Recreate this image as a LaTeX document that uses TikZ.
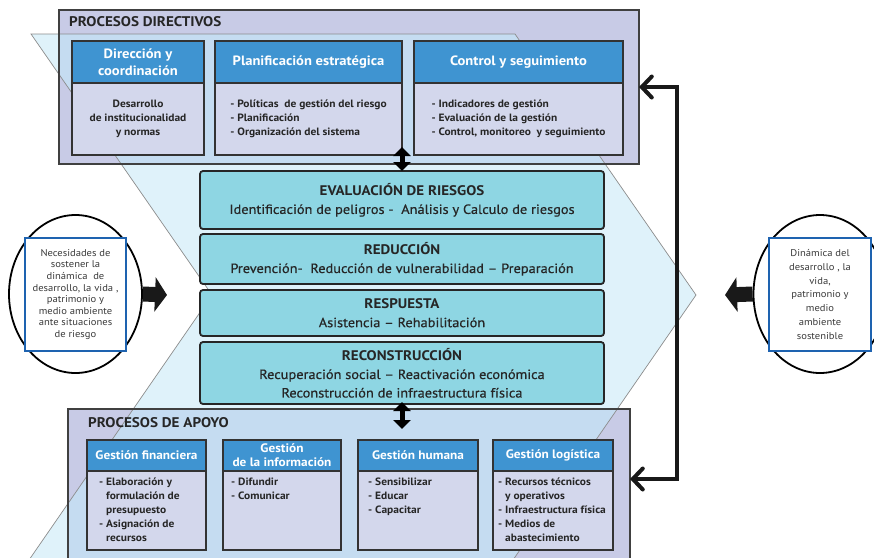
\documentclass[tikz,border=0pt]{standalone}
\usepackage{fontspec}
\setmainfont{PT Sans}[FakeStretch=1.08]
\newfontfamily\myMedFamily{PT Sans}[FakeStretch=1.08, FakeBold=0.5]
\usetikzlibrary{arrows.meta,shapes.geometric}
\definecolor{chev}{HTML}{DFF2FA}
\definecolor{lav}{HTML}{C8CBE6}
\definecolor{lavin}{HTML}{C5DCF1}
\definecolor{hdr}{HTML}{3F94D1}
\definecolor{bodyc}{HTML}{D3D7EC}
\definecolor{tealc}{HTML}{8ED6E3}
\definecolor{boxblue}{HTML}{1E63B0}
\definecolor{txt}{HTML}{262626}
\definecolor{gtxt}{HTML}{3A3A3A}
\newcommand\myTitleFont{\fontsize{14}{16}\selectfont\bfseries}
\newcommand\myHdrFont{\fontsize{13.5}{16}\selectfont\bfseries}
\newcommand\myHdrFontB{\fontsize{12.3}{14}\selectfont\bfseries}
\newcommand\myItemFont{\fontsize{10.6}{14}\selectfont\bfseries}
\newcommand\myCenFont{\myMedFamily\fontsize{13.3}{18.5}\selectfont}
\newcommand\myCenTitle{\normalfont\fontsize{13.9}{18.5}\selectfont\bfseries}
\newcommand\myEllFont{\fontsize{9.8}{11.6}\selectfont}
\tikzset{
  chevp/.style={insert path={(31,34) -- (515,34) -- (696,295) -- (513,560) -- (29,560) -- (212,295) -- cycle}},
  outerbox/.style={rectangle, fill=lav, anchor=north west, outer sep=0pt, inner sep=0pt},
  outerline/.style={draw=black!75, line width=1.4pt},
  hdrbox/.style={rectangle, draw=black!80, line width=1.1pt, fill=hdr, text=white, font=\myHdrFont, align=center, anchor=north west, outer sep=0pt, inner sep=0pt},
  bodybox/.style={rectangle, draw=black!80, line width=1.1pt, fill=bodyc, text=txt, font=\myItemFont, align=left, anchor=north west, outer sep=0pt, inner sep=0pt},
  itemtext/.style={text=txt, font=\myItemFont, align=left, anchor=north west, inner sep=0pt},
  cenbox/.style={rectangle, rounded corners=3pt, draw=black!85, line width=1.8pt, fill=tealc, text=txt, font=\myCenFont, align=center, anchor=north west, outer sep=0pt, inner sep=0pt, minimum width=404pt},
  dbl/.style={line width=5pt, {Triangle[length=9pt,width=17pt]}-{Triangle[length=9pt,width=17pt]}},
  conn/.style={line width=4pt, black!90, {Straight Barb[length=10pt,width=21pt,line cap=round]}-{Straight Barb[length=10pt,width=21pt,line cap=round]}},
  blockarr/.style={line width=15pt, black!90, -{Triangle[length=12pt,width=34pt]}},
  ell/.style={ellipse, draw=black, line width=1.8pt, fill=white, minimum width=133pt, minimum height=158pt, inner sep=0pt},
  ellbox/.style={rectangle, draw=boxblue, line width=1.8pt, fill=white, text=gtxt, font=\myEllFont, align=center, minimum height=113pt, inner sep=0pt}
}
\begin{document}
\begin{tikzpicture}[x=1pt,y=-1pt]
\useasboundingbox (0,0) rectangle (874,557);
\clip (0,0) rectangle (874,557);
% background chevron
\fill[chev, chevp];
% outer boxes
\node[outerbox, minimum width=580pt, minimum height=154pt] (dir) at (59,10) {};
\node[outerbox, minimum width=562pt, minimum height=170pt] (apo) at (68,409) {};
\begin{scope}
  \clip (dir.north west) rectangle (dir.south east);
  \fill[lavin, chevp];
\end{scope}
\begin{scope}
  \clip (apo.north west) rectangle (apo.south east);
  \fill[lavin, chevp];
\end{scope}
\draw[black!45, line width=0.7pt, chevp];
\draw[outerline] (dir.north west) rectangle (dir.south east);
\draw[outerline] (apo.north west) rectangle (apo.south east);
% titles
\node[anchor=west, inner sep=0pt, text=txt, font=\myTitleFont] (tdir) at (69,22) {PROCESOS DIRECTIVOS};
\node[anchor=west, inner sep=0pt, text=txt, font=\myTitleFont] (tapo) at (88,423) {PROCESOS DE APOYO};
% directive sub-boxes
\node[hdrbox, minimum width=132pt, minimum height=42pt] (h1) at (72,41) {Dirección y\\[1pt]coordinación};
\node[bodybox, minimum width=132pt, minimum height=72pt, align=center] (b1) at (72,83) {Desarrollo\\de institucionalidad\\y normas};
\node[hdrbox, minimum width=187pt, minimum height=42pt] (h2) at (215,41) {Planificación estratégica};
\node[bodybox, minimum width=187pt, minimum height=72pt] (b2) at (215,83) {- Políticas\ \ de gestión del riesgo\\- Planificación\\- Organización del sistema};
\node[hdrbox, minimum width=209pt, minimum height=42pt] (h3) at (414,41) {Control y seguimiento};
\node[bodybox, minimum width=209pt, minimum height=72pt] (b3) at (414,83) {- Indicadores de gestión\\- Evaluación de la gestión\\- Control, monitoreo\ \ y seguimiento};
% central boxes
\node[cenbox, minimum height=58pt] (c1) at (200,171) {{\myCenTitle EVALUACIÓN DE RIESGOS}\\Identificación de peligros -\ \ Análisis y Calculo de riesgos};
\node[cenbox, minimum height=50pt] (c2) at (200,234) {{\myCenTitle REDUCCIÓN}\\Prevención-\ \ Reducción de vulnerabilidad – Preparación};
\node[cenbox, minimum height=46pt] (c3) at (200,290) {{\myCenTitle RESPUESTA}\\Asistencia – Rehabilitación};
\node[cenbox, minimum height=62pt] (c4) at (200,342) {{\myCenTitle RECONSTRUCCIÓN}\\Recuperación social – Reactivación económica\\Reconstrucción de infraestructura física};
% support sub-boxes
\node[hdrbox, font=\myHdrFontB, minimum width=119pt, minimum height=31pt] (a1) at (87,440) {Gestión financiera};
\node[bodybox, minimum width=119pt, minimum height=79pt] (p1) at (87,471) {};
\node[hdrbox, font=\myHdrFontB, minimum width=118pt, minimum height=31pt] (a2) at (223,440) {Gestión\\de la información};
\node[bodybox, minimum width=118pt, minimum height=79pt] (p2) at (223,471) {};
\node[hdrbox, font=\myHdrFontB, minimum width=120pt, minimum height=31pt] (a3) at (358,440) {Gestión humana};
\node[bodybox, minimum width=120pt, minimum height=79pt] (p3) at (358,471) {};
\node[hdrbox, font=\myHdrFontB, minimum width=120pt, minimum height=31pt] (a4) at (493,440) {Gestión logística};
\node[bodybox, minimum width=120pt, minimum height=79pt] (p4) at (493,471) {};
\node[itemtext] (i1) at (99,478) {- Elaboración y\\\hphantom{- }formulación de\\\hphantom{- }presupuesto\\- Asignación de\\\hphantom{- }recursos};
\node[itemtext] (i2) at (231,478) {- Difundir\\- Comunicar};
\node[itemtext] (i3) at (368,478) {- Sensibilizar\\- Educar\\- Capacitar};
\node[itemtext] (i4) at (498,478) {- Recursos técnicos\\\hphantom{- }y operativos\\- Infraestructura física\\- Medios de\\\hphantom{- }abastecimiento};
% double arrows
\draw[dbl] ([yshift=8pt]b2.south east) -- (c1.north);
\draw[dbl] ([yshift=2pt]c4.south) -- ([yshift=-25pt]c4.south);
% right feedback connector
\coordinate (r1) at (677,87);
\coordinate (r2) at (677,479);
\draw[conn] (r1 -| dir.east) -- (r1) -- (r2) -- (r2 -| apo.east);
% ellipses
\node[ell] (el) at (75.5,294) {};
\node[ellbox, minimum width=101pt] (tl) at (75.5,294.5) {Necesidades de\\sostener la\\dinámica\ \ de\\desarrollo, la vida ,\\patrimonio y\\medio ambiente\\ante situaciones\\de riesgo};
\node[ell] (er) at (820,294) {};
\node[ellbox, minimum width=102pt, font=\fontsize{9.8}{13.7}\selectfont] (tr) at (820,294.5) {Dinámica del\\desarrollo , la\\vida,\\patrimonio y\\medio\\ambiente\\sostenible};
\coordinate (la) at (167,295);
\coordinate (ra) at (725,295);
\draw[blockarr] (el.east) -- (la);
\draw[blockarr] (er.west) -- (ra);
\end{tikzpicture}
\end{document}
